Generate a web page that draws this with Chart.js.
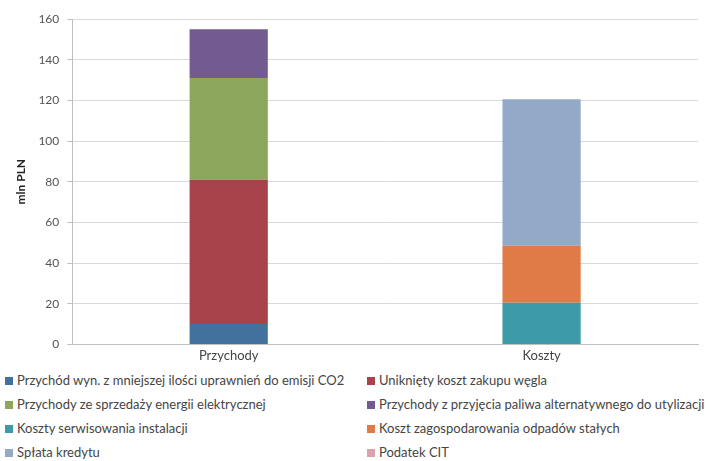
<!DOCTYPE html>
<html>
<head>
<meta charset="utf-8">
<script src="https://cdn.jsdelivr.net/npm/chart.js@4/dist/chart.umd.min.js"></script>
<style>
    body { margin: 0; background: #fff; font-family: "Lato", "Liberation Sans", sans-serif; }
    #wrap { position: relative; width: 708px; height: 461px; }
    #chartBox { position: absolute; left: 0; top: 0; width: 708px; height: 368px; }
    #legend { position: absolute; left: 5px; top: 372px; width: 703px; display: grid;
              grid-template-columns: 362px 341px; row-gap: 7px; font-size: 13px; color: #454545; }
    #legend div { white-space: nowrap; overflow: hidden; height: 17px; line-height: 17px; }
    #legend span { display: inline-block; width: 8px; height: 8px; margin-right: 4px; vertical-align: 0px; }
</style>
</head>
<body>
<div id="wrap">
    <div id="chartBox"><canvas id="chart"></canvas></div>
    <div id="legend"></div>
</div>
<script>
// categories
let categories = ["Przychody", "Koszty"];

// series (value per category: Przychody, Koszty), mln PLN
let seriesNames = [
    "Przychód wyn. z mniejszej ilości uprawnień do emisji CO2",
    "Uniknięty koszt zakupu węgla",
    "Przychody ze sprzedaży energii elektrycznej",
    "Przychody z przyjęcia paliwa alternatywnego do utylizacji",
    "Koszty serwisowania instalacji",
    "Koszt zagospodarowania odpadów stałych",
    "Spłata kredytu",
    "Podatek CIT"
];
let emisjaCO2   = [10, null];
let wegiel      = [71, null];
let energia     = [50, null];
let paliwo      = [24, null];
let serwis      = [null, 20.5];
let odpady      = [null, 28];
let kredyt      = [null, 72];
let podatekCIT  = [null, 0];

let seriesColors = ["#41719c", "#a8424b", "#8ca65b", "#735b92", "#3c9ba6", "#e07b47", "#92a9c8", "#dca2ab"];

// y axis ticks
let yTicks = [0, 20, 40, 60, 80, 100, 120, 140, 160];

let allSeries = [emisjaCO2, wegiel, energia, paliwo, serwis, odpady, kredyt, podatekCIT];

let datasets = allSeries.map((values, i) => ({
    label: seriesNames[i],
    data: values,
    backgroundColor: seriesColors[i],
    borderWidth: 0,
    categoryPercentage: 1.0,
    barPercentage: 0.25
}));

let ctx = document.getElementById("chart").getContext("2d");
let myChart = new Chart(ctx, {
    type: "bar",
    data: { labels: categories, datasets: datasets },
    options: {
        responsive: true,
        maintainAspectRatio: false,
        animation: false,
        layout: { padding: { top: 19, right: 10, left: 10, bottom: 0 } },
        plugins: {
            legend: { display: false },
            tooltip: { enabled: false }
        },
        scales: {
            x: {
                stacked: true,
                grid: { display: false, drawTicks: false },
                border: { color: "#bfbfbf" },
                ticks: { color: "#444", font: { family: "Lato", size: 13 }, padding: 4 }
            },
            y: {
                stacked: true,
                min: 0,
                max: 160,
                afterBuildTicks: axis => { axis.ticks = yTicks.map(v => ({ value: v })); },
                grid: { color: "#d9d9d9", tickLength: 5, tickColor: "#bfbfbf" },
                border: { color: "#bfbfbf" },
                ticks: { color: "#555", font: { family: "Lato", size: 12 }, padding: 8 },
                title: {
                    display: true,
                    text: "mln PLN",
                    color: "#222",
                    font: { family: "Lato", size: 12, weight: "bold" },
                    padding: { bottom: 2 }
                }
            }
        }
    }
});

// legend in two columns, like the original
let legend = document.getElementById("legend");
legend.innerHTML = "";
myChart.data.datasets.forEach(ds => {
    legend.innerHTML += `<div><span style="background:${ds.backgroundColor}"></span>${ds.label}</div>`;
});
</script>
</body>
</html>
